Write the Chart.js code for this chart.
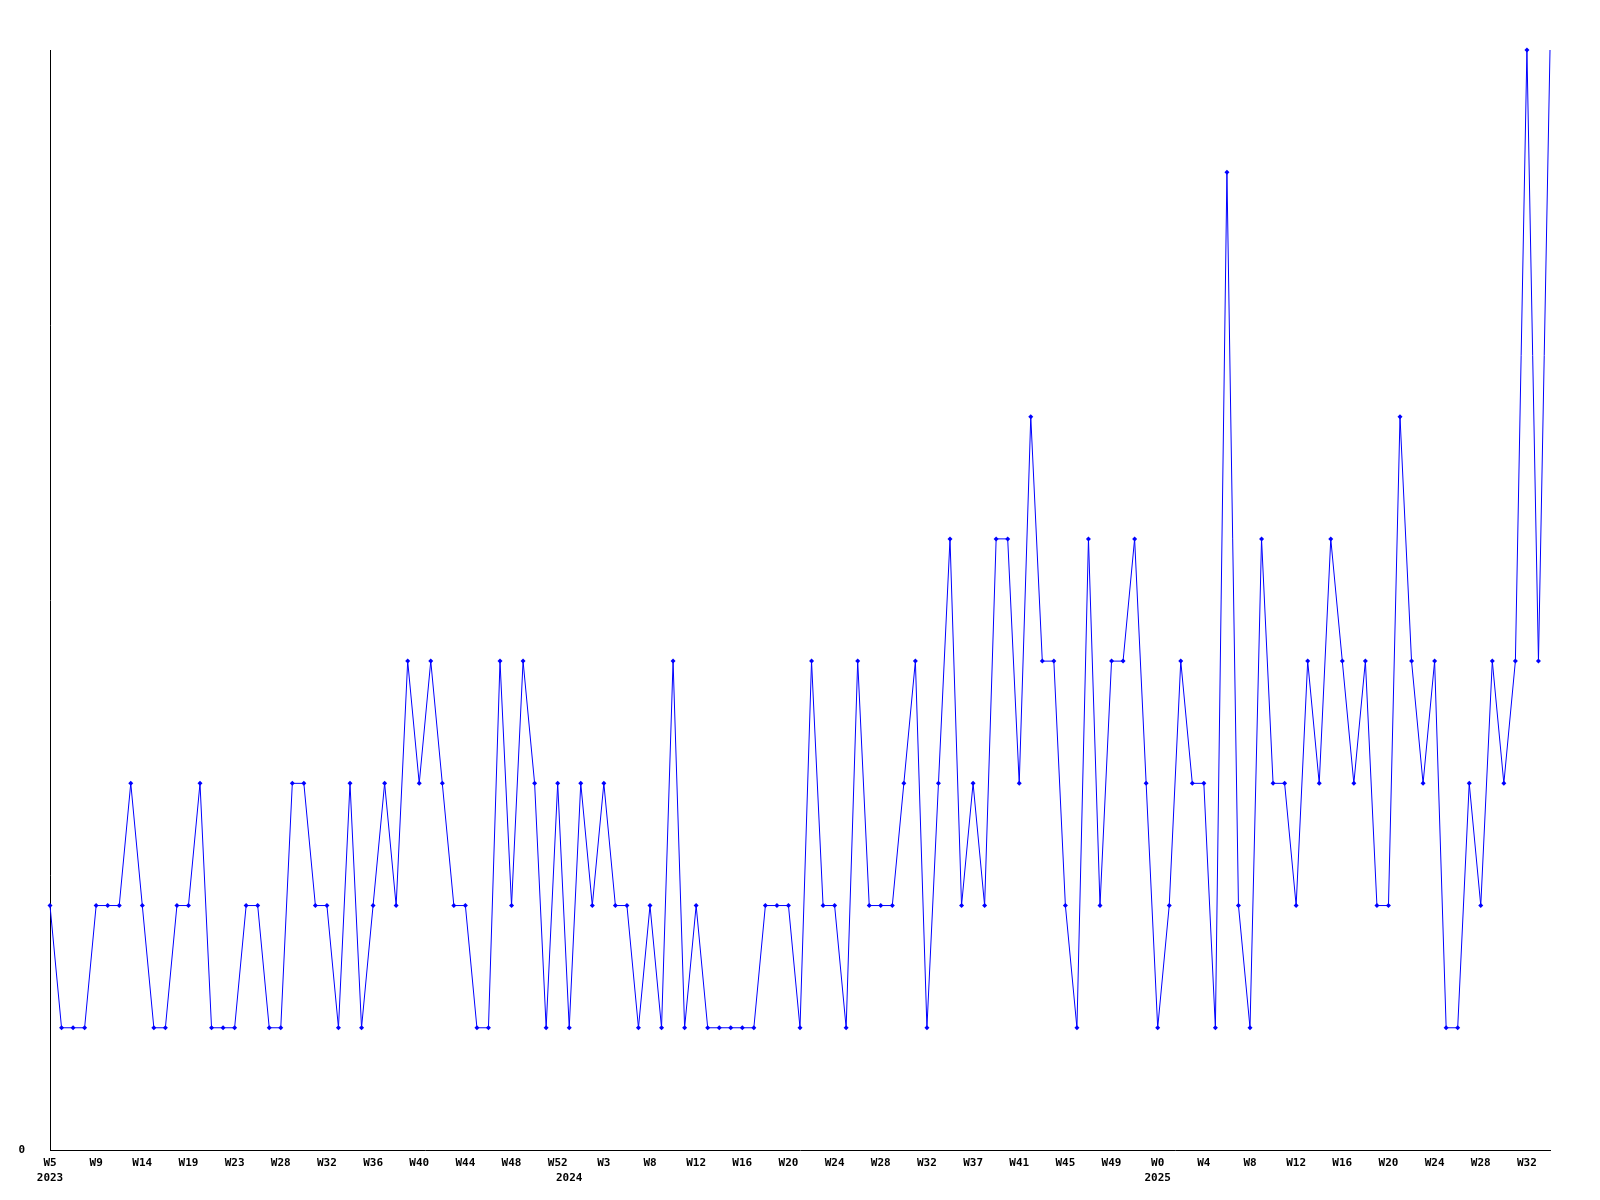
<!DOCTYPE html>
<html>
<head>
<meta charset="utf-8">
<script src="https://cdn.jsdelivr.net/npm/chart.js@4/dist/chart.umd.min.js"></script>
<style>
  html, body { margin: 0; padding: 0; background: #ffffff; }
  #wrap { width: 1600px; height: 1200px; }
</style>
</head>
<body>
<div id="wrap"><canvas id="c" width="1600" height="1200"></canvas></div>
<script>
// Weekly values, one per week starting at W5 2023
const values = [
  2, 1, 1, 1, 2, 2, 2, 3, 2, 1,
  1, 2, 2, 3, 1, 1, 1, 2, 2, 1,
  1, 3, 3, 2, 2, 1, 3, 1, 2, 3,
  2, 4, 3, 4, 3, 2, 2, 1, 1, 4,
  2, 4, 3, 1, 3, 1, 3, 2, 3, 2,
  2, 1, 2, 1, 4, 1, 2, 1, 1, 1,
  1, 1, 2, 2, 2, 1, 4, 2, 2, 1,
  4, 2, 2, 2, 3, 4, 1, 3, 5, 2,
  3, 2, 5, 5, 3, 6, 4, 4, 2, 1,
  5, 2, 4, 4, 5, 3, 1, 2, 4, 3,
  3, 1, 8, 2, 1, 5, 3, 3, 2, 4,
  3, 5, 4, 3, 4, 2, 2, 6, 4, 3,
  4, 1, 1, 3, 2, 4, 3, 4, 9, 4,
  9
];
// Tick labels shown every 4th week
const tickLabels = ['W5','W9','W14','W19','W23','W28','W32','W36','W40','W44','W48','W52',
                    'W3','W8','W12','W16','W20','W24','W28','W32','W37','W41','W45','W49',
                    'W0','W4','W8','W12','W16','W20','W24','W28','W32'];
const tickEvery = 4;
// Year labels and the week index where each year starts
const yearLabels = ['2023', '2024', '2025'];
const yearStarts = [0, 45, 96];

const categories = values.map((v, i) => String(i));
const FONT = { family: "'DejaVu Sans Mono', monospace", size: 11, weight: 'bold', lineHeight: 1.35 };

new Chart(document.getElementById('c'), {
  type: 'line',
  data: {
    labels: categories,
    datasets: [{
      data: values,
      borderColor: '#0000ff',
      backgroundColor: '#0000ff',
      borderWidth: 1,
      tension: 0,
      fill: false,
      pointStyle: 'rectRot',
      pointRadius: ctx => (ctx.dataIndex === values.length - 1 ? 0 : 2.5),
      pointBorderWidth: 0,
      pointBackgroundColor: '#0000ff',
      clip: false
    }]
  },
  options: {
    responsive: false,
    animation: false,
    layout: { padding: { top: 50, right: 50, left: 0, bottom: 0 } },
    plugins: { legend: { display: false }, tooltip: { enabled: false } },
    scales: {
      x: {
        type: 'category',
        offset: false,
        grid: { display: false, drawTicks: false },
        border: { display: true, color: '#000000', width: 1 },
        afterFit: s => { s.height = 50; },
        ticks: {
          autoSkip: false,
          maxRotation: 0,
          minRotation: 0,
          padding: 6,
          color: '#000000',
          font: FONT,
          callback: function (val, idx) {
            const t = (idx % tickEvery === 0) ? tickLabels[idx / tickEvery] : null;
            const y = yearStarts.indexOf(idx);
            if (y >= 0) return [t || '', yearLabels[y]];
            return t === undefined ? null : t;
          }
        }
      },
      y: {
        min: 0,
        max: 9,
        grid: { display: false, drawTicks: false },
        border: { display: true, color: '#000000', width: 1 },
        afterFit: s => { s.width = 50; },
        ticks: {
          stepSize: 1,
          padding: 25,
          color: '#000000',
          font: FONT,
          callback: v => (v === 0 ? '0' : null)
        }
      }
    }
  }
});
</script>
</body>
</html>
